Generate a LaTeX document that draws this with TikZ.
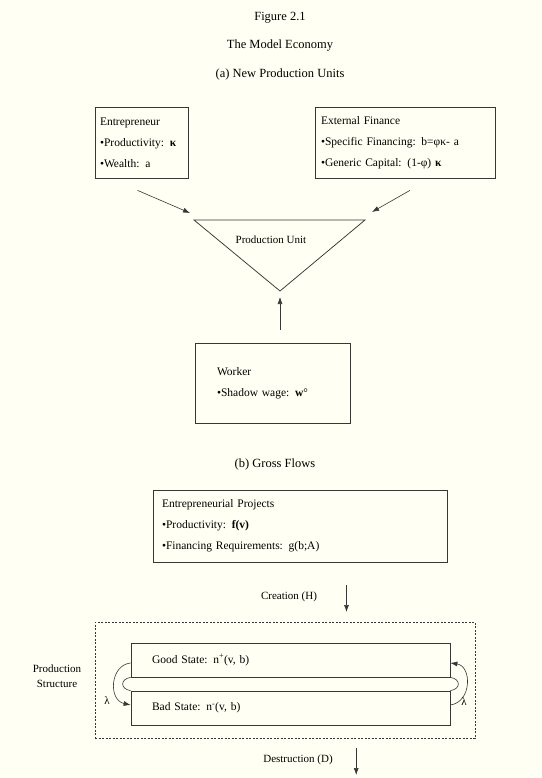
\documentclass[tikz,border=0pt]{standalone}
\usepackage{fontspec}
\setmainfont{Liberation Serif}
\usetikzlibrary{arrows.meta}
\definecolor{paper}{RGB}{255,255,243}
\definecolor{ink}{RGB}{55,55,55}
\tikzset{
  box/.style={draw=ink,line width=0.75pt,align=left,font=\fontsize{11.5}{21}\selectfont,inner ysep=0pt},
  title/.style={font=\fontsize{12.5}{14}\selectfont},
  lab/.style={font=\fontsize{11}{13}\selectfont},
  arr/.style={->,>={Latex[length=7pt,width=5pt]},semithick,draw=ink},
}
\begin{document}
\begin{tikzpicture}[x=1pt,y=-1pt]
\fill[paper](0,0)rectangle(541,778);%背景
\node[title](fig)at(280,18){Figure 2.1};
\node[title](eco)at(280,46){The Model Economy};
\node[title](parta)at(280,74){(a) New Production Units};
\node[box,text width=83pt,inner xsep=5pt,minimum height=71pt](ent)at(141.5,142.5){Entrepreneur\\•Productivity: \textbf{κ}\\•Wealth: a};%起業家
\node[box,text width=168pt,inner xsep=6pt,minimum height=71pt](ext)at(405,142.5){External Finance\\•Specific Financing: b=φκ- a\\•Generic Capital: (1-φ) \textbf{κ}};%外部資金
\coordinate(tl)at(194,220);\coordinate(tr)at(365,220);\coordinate(apex)at(280,291);
\draw[ink,line width=0.75pt](tl)--(tr)--(apex)--cycle;%生産単位
\node[lab](unit)at(271,240){Production Unit};
\coordinate(inL)at(190,213);\coordinate(inR)at(372,212);
\draw[arr]([shift={(-4pt,-12pt)}]ent.south)--(inL);
\draw[arr]([shift={(5pt,-12pt)}]ext.south)--(inR);
\node[box,text width=111pt,inner xsep=22pt,minimum height=80pt](worker)at(272.5,383){Worker\\•Shadow wage: \textbf{w}°};%労働者
\draw[arr]([yshift=13pt]apex|-worker.north)--([yshift=-6pt]apex);
\node[title](partb)at(275,464){(b) Gross Flows};
\node[box,text width=276pt,inner xsep=9pt,minimum height=72pt](proj)at(300,526){Entrepreneurial Projects\\•Productivity: \textbf{f(v)}\\•Financing Requirements: g(b;A)};
\node[lab](cre)at(289,597){Creation (H)};
\draw[arr]([shift={(26pt,12pt)}]cre.east)--([shift={(26pt,-15pt)}]cre.east);
\node[draw=ink,dash pattern=on 2pt off 1.5pt,line width=0.8pt,minimum width=380pt,minimum height=116pt](struct)at(285,680){};%生産構造
\node[lab,align=center,font=\fontsize{11}{15}\selectfont](plab)at(57,676){Production\\Structure};
\node[box,text width=277pt,inner xsep=21pt,minimum height=34pt](good)at(290.5,660){Good State: n\textsuperscript{+}(v, b)};
\node[box,text width=277pt,inner xsep=21pt,minimum height=34pt](bad)at(290.5,708){Bad State: n\textsuperscript{-}(v, b)};
\draw[arr]([yshift=-3pt]good.west)..controls(110,665)and(108,700)..([yshift=3pt]bad.west);
\draw[ink,semithick](good.south west)..controls(120,679)and(120,689)..(bad.north west);
\draw[arr]([yshift=3pt]bad.east)..controls(472,702)and(472,666)..([yshift=-3pt]good.east);
\draw[ink,semithick](bad.north east)..controls(461,689)and(461,679)..(good.south east);
\node[lab](lamL)at(107,701){λ};
\node[lab](lamR)at(464,702){λ};
\node[lab](des)at(298,760){Destruction (D)};
\draw[arr]([shift={(20pt,12pt)}]des.east)--([shift={(20pt,-15pt)}]des.east);
\end{tikzpicture}
\end{document}
